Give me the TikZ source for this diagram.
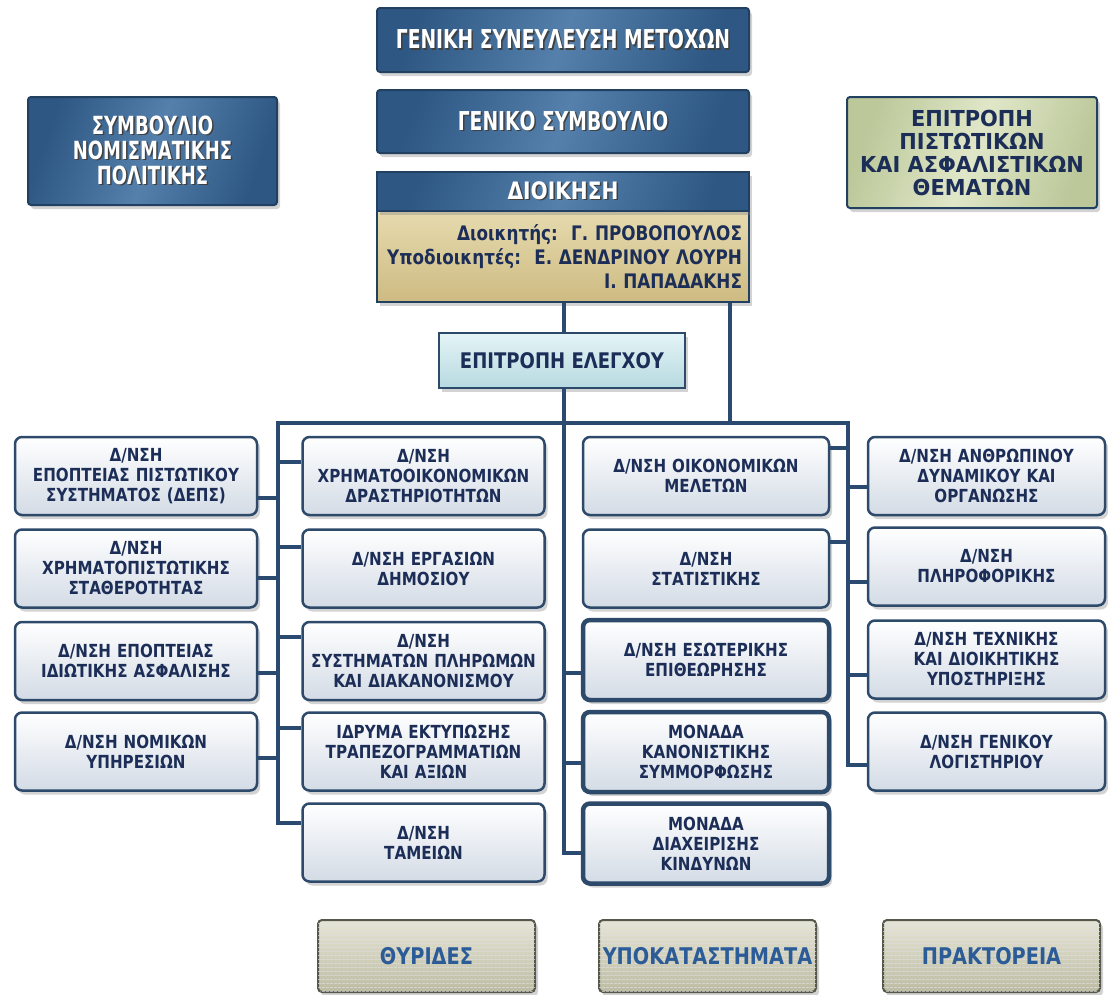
\documentclass[tikz,border=0pt]{standalone}
\usepackage{fontspec}
\setmainfont{DejaVu Sans}
\newfontfamily\orgfont{DejaVu Sans}[FakeStretch=0.84]
\newfontfamily\narrowfont{DejaVu Sans}[FakeStretch=0.72]
\newfontfamily\plainfont{DejaVu Sans}[FakeStretch=0.95]
\usetikzlibrary{shadows,patterns.meta}

\definecolor{linecol}{HTML}{2B4A6F}
\definecolor{deptline}{HTML}{2E4A6A}
\definecolor{deptbot}{HTML}{D3DBE5}
\definecolor{depttxt}{HTML}{1C2E57}
\definecolor{boardA}{HTML}{2E5783}
\definecolor{boardB}{HTML}{5580AC}
\definecolor{boardline}{HTML}{22405F}
\definecolor{tanA}{HTML}{E6DAAE}
\definecolor{tanB}{HTML}{CDBB82}
\definecolor{elegA}{HTML}{E4F4F6}
\definecolor{elegB}{HTML}{B6DAE0}
\definecolor{greenA}{HTML}{E0E7C8}
\definecolor{greenB}{HTML}{BCC89A}
\definecolor{outA}{HTML}{E6E5D6}
\definecolor{outB}{HTML}{BDBCA2}
\definecolor{outline}{HTML}{55574A}
\definecolor{outtxt}{HTML}{2C5C98}

% white text with a dark shadow, one line at a time
\newcommand\shtx[1]{\leavevmode\rlap{\kern1.5pt\raisebox{-1.5pt}{\textcolor{black!75}{#1}}}#1}

\tikzset{
  shade box/.style={drop shadow={shadow xshift=3pt,shadow yshift=-4pt,opacity=0.35}},
  conn/.style={draw=linecol, line width=3.2pt},
  dept/.style={draw=deptline, line width=2.5pt, rounded corners=7pt, top color=white,
    bottom color=deptbot, text=depttxt, align=center, text width=230pt, inner sep=0pt,
    minimum width=242pt, minimum height=78pt,
    font=\orgfont\bfseries\fontsize{18}{20}\selectfont, shade box},
  deptbold/.style={dept, line width=4.5pt, minimum height=80pt},
  board/.style={draw=boardline, line width=2pt, rounded corners=3pt, left color=boardA,
    right color=boardA, middle color=boardB, shading angle=70, text=white, align=center,
    inner sep=0pt, minimum width=372pt, shade box},
  outlet/.style={draw=outline, line width=2pt, rounded corners=4pt, top color=outA,
    bottom color=outB, text=outtxt, minimum width=217pt, minimum height=72pt,
    font=\orgfont\bfseries\fontsize{23}{26}\selectfont, shade box,
    postaction={pattern={Lines[angle=0,distance=4pt,line width=0.8pt]}, pattern color=black!12}}
}

\begin{document}
\begin{tikzpicture}[x=1pt,y=-1pt]
\useasboundingbox (0,0) rectangle (1108,994);

% top of the bank
\node[board, minimum height=64pt, font=\narrowfont\bfseries\fontsize{26}{30}\selectfont] (gsm) at (563,40) {\shtx{ΓΕΝΙΚΗ ΣΥΝΕΥΛΕΥΣΗ ΜΕΤΟΧΩΝ}};
\node[board, minimum height=63pt, font=\narrowfont\bfseries\fontsize{26}{30}\selectfont] (gs) at (563,121.5) {\shtx{ΓΕΝΙΚΟ ΣΥΜΒΟΥΛΙΟ}};
\node[draw=boardline, line width=2pt, top color=tanA, bottom color=tanB, text=depttxt, align=right,
      inner sep=0pt, minimum width=372pt, text width=358pt, minimum height=91pt, shade box,
      font=\orgfont\bfseries\fontsize{20}{24}\selectfont] (dbody) at (563,256.5)
      {Διοικητής:~~Γ. ΠΡΟΒΟΠΟΥΛΟΣ\\ Υποδιοικητές:~~Ε. ΔΕΝΔΡΙΝΟΥ ΛΟΥΡΗ\\ Ι. ΠΑΠΑΔΑΚΗΣ};
\node[board, rounded corners=0pt, minimum height=39pt, font=\orgfont\bfseries\fontsize{24}{28}\selectfont] (dhead) at (563,191.5) {\shtx{ΔΙΟΙΚΗΣΗ}};

\node[board, minimum width=249pt, minimum height=108pt, font=\narrowfont\bfseries\fontsize{25}{25}\selectfont] (snp) at (152.5,151) {\shtx{ΣΥΜΒΟΥΛΙΟ}\\ \shtx{ΝΟΜΙΣΜΑΤΙΚΗΣ}\\ \shtx{ΠΟΛΙΤΙΚΗΣ}};
\node[board, minimum width=250pt, minimum height=111pt, left color=greenB, right color=greenB, middle color=greenA,
      shading angle=70, text=depttxt, font=\plainfont\bfseries\fontsize{22}{23}\selectfont] (epa) at (972,152.5) {ΕΠΙΤΡΟΠΗ\\ ΠΙΣΤΩΤΙΚΩΝ\\ ΚΑΙ ΑΣΦΑΛΙΣΤΙΚΩΝ\\ ΘΕΜΑΤΩΝ};

\node[draw=deptline, line width=2pt, top color=elegA, bottom color=elegB, text=depttxt,
      minimum width=246pt, minimum height=55pt, shade box,
      font=\orgfont\bfseries\fontsize{21.5}{24}\selectfont] (elegx) at (562,360.5) {ΕΠΙΤΡΟΠΗ ΕΛΕΓΧΟΥ};

% directorates
\node[dept] (L1) at (136,476) {Δ/ΝΣΗ\\ ΕΠΟΠΤΕΙΑΣ ΠΙΣΤΩΤΙΚΟΥ\\ ΣΥΣΤΗΜΑΤΟΣ (ΔΕΠΣ)};
\node[dept] (L2) at (136,568.5) {Δ/ΝΣΗ\\ ΧΡΗΜΑΤΟΠΙΣΤΩΤΙΚΗΣ\\ ΣΤΑΘΕΡΟΤΗΤΑΣ};
\node[dept] (L3) at (136,661) {Δ/ΝΣΗ ΕΠΟΠΤΕΙΑΣ\\ ΙΔΙΩΤΙΚΗΣ ΑΣΦΑΛΙΣΗΣ};
\node[dept] (L4) at (136,751.5) {Δ/ΝΣΗ ΝΟΜΙΚΩΝ\\ ΥΠΗΡΕΣΙΩΝ};

\node[dept] (M1) at (423.5,476) {Δ/ΝΣΗ\\ ΧΡΗΜΑΤΟΟΙΚΟΝΟΜΙΚΩΝ\\ ΔΡΑΣΤΗΡΙΟΤΗΤΩΝ};
\node[dept] (M2) at (423.5,568.5) {Δ/ΝΣΗ ΕΡΓΑΣΙΩΝ\\ ΔΗΜΟΣΙΟΥ};
\node[dept] (M3) at (423.5,661) {Δ/ΝΣΗ\\ ΣΥΣΤΗΜΑΤΩΝ ΠΛΗΡΩΜΩΝ\\ ΚΑΙ ΔΙΑΚΑΝΟΝΙΣΜΟΥ};
\node[dept] (M4) at (423.5,751.5) {ΙΔΡΥΜΑ ΕΚΤΥΠΩΣΗΣ\\ ΤΡΑΠΕΖΟΓΡΑΜΜΑΤΙΩΝ\\ ΚΑΙ ΑΞΙΩΝ};
\node[dept] (M5) at (423.5,842.5) {Δ/ΝΣΗ\\ ΤΑΜΕΙΩΝ};

\node[dept, minimum width=246pt] (C1) at (706,476) {Δ/ΝΣΗ ΟΙΚΟΝΟΜΙΚΩΝ\\ ΜΕΛΕΤΩΝ};
\node[dept, minimum width=246pt] (C2) at (706,568.5) {Δ/ΝΣΗ\\ ΣΤΑΤΙΣΤΙΚΗΣ};
\node[deptbold, minimum width=246pt] (C3) at (706,660) {Δ/ΝΣΗ ΕΣΩΤΕΡΙΚΗΣ\\ ΕΠΙΘΕΩΡΗΣΗΣ};
\node[deptbold, minimum width=246pt] (C4) at (706,752) {ΜΟΝΑΔΑ\\ ΚΑΝΟΝΙΣΤΙΚΗΣ\\ ΣΥΜΜΟΡΦΩΣΗΣ};
\node[deptbold, minimum width=246pt] (C5) at (706,843.5) {ΜΟΝΑΔΑ\\ ΔΙΑΧΕΙΡΙΣΗΣ\\ ΚΙΝΔΥΝΩΝ};

\node[dept, minimum width=237pt] (R1) at (986.5,476) {Δ/ΝΣΗ ΑΝΘΡΩΠΙΝΟΥ\\ ΔΥΝΑΜΙΚΟΥ ΚΑΙ\\ ΟΡΓΑΝΩΣΗΣ};
\node[dept, minimum width=237pt] (R2) at (986.5,566.5) {Δ/ΝΣΗ\\ ΠΛΗΡΟΦΟΡΙΚΗΣ};
\node[dept, minimum width=237pt] (R3) at (986.5,659.5) {Δ/ΝΣΗ ΤΕΧΝΙΚΗΣ\\ ΚΑΙ ΔΙΟΙΚΗΤΙΚΗΣ\\ ΥΠΟΣΤΗΡΙΞΗΣ};
\node[dept, minimum width=237pt] (R4) at (986.5,751.5) {Δ/ΝΣΗ ΓΕΝΙΚΟΥ\\ ΛΟΓΙΣΤΗΡΙΟΥ};

% network
\node[outlet] (thyr) at (426.5,956) {ΘΥΡΙΔΕΣ};
\node[outlet] (ypok) at (707.5,956) {ΥΠΟΚΑΤΑΣΤΗΜΑΤΑ};
\node[outlet] (prakt) at (991.5,956) {ΠΡΑΚΤΟΡΕΙΑ};

% lines
\coordinate (spL) at (278,423);
\coordinate (spC) at (564,423);
\coordinate (spR) at (848,423);

\draw[conn] (dbody.south -| spC) -- (elegx.north -| spC);
\draw[conn] (elegx.south -| spC) -- (spC |- 0,853) -- (C5.west |- 0,853);
\draw[conn] (dbody.south -| 730,0) -- (spR -| 730,0);
\draw[conn, line join=miter] (M5.west |- 0,823) -| (spL) -- (spR) |- (R4.west |- 0,765);

\draw[conn] (L1.east |- 0,498) -- (spL |- 0,498);
\draw[conn] (L2.east |- 0,578) -- (spL |- 0,578);
\draw[conn] (L3.east |- 0,673) -- (spL |- 0,673);
\draw[conn] (L4.east |- 0,758) -- (spL |- 0,758);
\draw[conn] (M1.west |- 0,462) -- (spL |- 0,462);
\draw[conn] (M2.west |- 0,547) -- (spL |- 0,547);
\draw[conn] (M3.west |- 0,637) -- (spL |- 0,637);
\draw[conn] (M4.west |- 0,728) -- (spL |- 0,728);

\draw[conn] (C3.west |- 0,673) -- (spC |- 0,673);
\draw[conn] (C4.west |- 0,763) -- (spC |- 0,763);

\draw[conn] (C1.east |- 0,448) -- (spR |- 0,448);
\draw[conn] (C2.east |- 0,542) -- (spR |- 0,542);
\draw[conn] (R1.west |- 0,487) -- (spR |- 0,487);
\draw[conn] (R2.west |- 0,582) -- (spR |- 0,582);
\draw[conn] (R3.west |- 0,675) -- (spR |- 0,675);

\end{tikzpicture}
\end{document}
